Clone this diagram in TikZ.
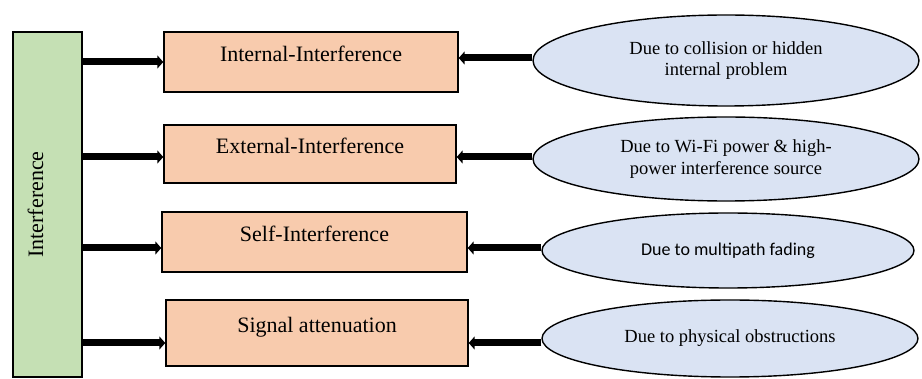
\documentclass[tikz,border=0pt]{standalone}
\usepackage{fontspec}
\setmainfont{Liberation Serif}
\newfontfamily\calibrilike{Carlito}
\usetikzlibrary{arrows.meta,shapes.geometric}
\definecolor{barGreen}{HTML}{C5E0B4}
\definecolor{boxOrange}{HTML}{F8CBAD}
\definecolor{ovalBlue}{HTML}{DAE3F3}
\begin{document}
\begin{tikzpicture}[x=1pt,y=-1pt,
  catbox/.style={draw=black,line width=1.4pt,fill=boxOrange,inner sep=0pt,
    font=\fontsize{22}{26}\selectfont,text height=15pt,text depth=16pt},
  cause/.style={ellipse,draw=black,line width=1.4pt,fill=ovalBlue,inner sep=0pt,
    align=center,font=\fontsize{18.5}{21.5}\selectfont},
  flow/.style={line width=7pt,-{Triangle[length=6pt,width=13pt]}}
]
\useasboundingbox (0,0) rectangle (922,379);

% main category bar
\node[draw=black,line width=1.4pt,fill=barGreen,rotate=90,inner sep=0pt,
  minimum width=345pt,minimum height=69pt,
  font=\fontsize{22}{26}\selectfont,text height=15pt,text depth=24pt]
  (root) at (47.5,204.5) {Interference};

% interference types
\node[catbox,minimum width=294pt,minimum height=60pt] (t1) at (311,62) {Internal-Interference};
\node[catbox,minimum width=292pt,minimum height=58pt] (t2) at (310,154) {External-Interference};
\node[catbox,minimum width=305pt,minimum height=60pt] (t3) at (314.5,242) {Self-Interference};
\node[catbox,minimum width=302pt,minimum height=66pt] (t4) at (317,333) {Signal attenuation};

% causes
\node[cause,minimum width=386pt,minimum height=91pt] (c1) at (726,60.5)
  {Due to collision or hidden\\internal problem};
\node[cause,minimum width=386pt,minimum height=84pt] (c2) at (726,159)
  {Due to Wi-Fi power \& high-\\power interference source};
\node[cause,minimum width=372pt,minimum height=75pt,font=\calibrilike\fontsize{18}{22}\selectfont]
  (c3) at (728,250.5) {Due to multipath fading};
\node[cause,minimum width=376pt,minimum height=77pt] (c4) at (730,338.5)
  {Due to physical obstructions};

% bar to types
\draw[flow] (root.south |- 0,62) -- (t1.west |- 0,62);
\draw[flow] (root.south |- 0,157) -- (t2.west |- 0,157);
\draw[flow] (root.south |- 0,248) -- (t3.west |- 0,248);
\draw[flow] (root.south |- 0,343) -- (t4.west |- 0,343);

% causes to types
\draw[flow] (c1.west |- 0,58) -- (t1.east |- 0,58);
\draw[flow] (c2.west |- 0,157) -- (t2.east |- 0,157);
\draw[flow] (c3.west |- 0,248) -- (t3.east |- 0,248);
\draw[flow] (c4.west |- 0,343) -- (t4.east |- 0,343);
\end{tikzpicture}
\end{document}
